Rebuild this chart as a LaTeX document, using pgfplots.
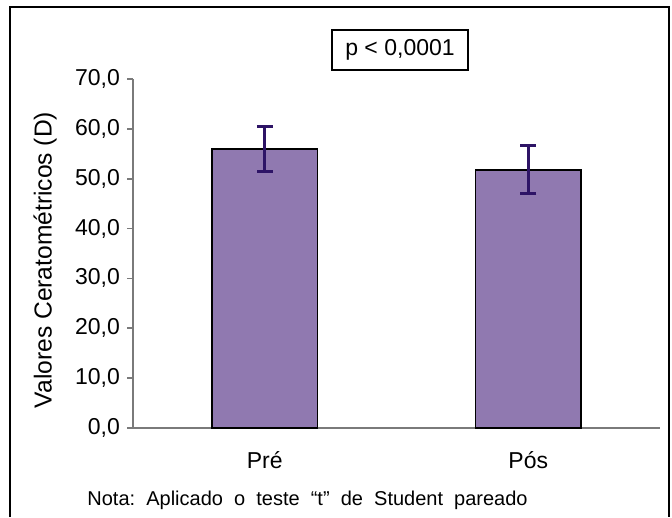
\documentclass[border=0pt]{standalone}
\usepackage{pgfplots}
\pgfplotsset{compat=1.18}
\usepackage{fontspec}
\setmainfont{Liberation Sans}
\definecolor{barfill}{HTML}{9079B0}
\definecolor{errc}{HTML}{2E1466}
\definecolor{axgray}{HTML}{7A7A7A}
\begin{document}
\begin{tikzpicture}
\path (0,0) rectangle (336pt,258.5pt);
\draw[line width=0.8pt] (5pt,0) -- (5pt,255pt) -- (334.5pt,255pt) -- (334.5pt,0);
\begin{axis}[
  at={(66.5pt,44.5pt)}, anchor=south west,
  scale only axis, width=263.5pt, height=174.5pt,
  xmin=-0.5, xmax=1.5, ymin=0, ymax=70,
  axis x line=bottom, axis y line=left,
  axis line style={-, axgray, line width=0.8pt},
  xtick={0,1}, xticklabels={Pré,Pós},
  x tick style={draw=none},
  extra x ticks={-0.5,0.5,1.5}, extra x tick labels={},
  extra x tick style={tick style={draw=axgray, line width=0.8pt}, major tick length=3pt, tick align=outside},
  ytick={0,10,...,70},
  y tick style={draw=axgray, line width=0.8pt},
  tick align=outside, major tick length=3pt,
  yticklabel style={/pgf/number format/.cd, fixed, fixed zerofill, precision=1, use comma, assume math mode=true},
  ticklabel style={font=\fontsize{11.5}{13}\selectfont},
  xticklabel style={anchor=center, yshift=-13pt},
  clip=false,
]
\addplot[ybar, bar width=0.40, fill=barfill, draw=black, line width=0.8pt,
  error bars/.cd, y dir=both, y explicit,
  error bar style={errc, line width=1.6pt},
  error mark options={errc, line width=1.6pt, mark size=4pt, rotate=90}]
  coordinates {(0,56.0) +- (0,4.5) (1,51.8) +- (0,4.8)};
\end{axis}
\node[rotate=90, font=\fontsize{12.3}{14}\selectfont] at (22.5pt,128.5pt) {Valores Ceratométricos (D)};
\node[draw, line width=0.8pt, minimum width=68pt, minimum height=20pt, font=\fontsize{11.5}{13}\selectfont] at (200pt,233.5pt) {p < 0,0001};
\node[anchor=west, inner sep=0pt, font=\fontsize{10}{12}\selectfont] at (43.5pt,8.5pt) {Nota:\ \ Aplicado\ \ o\ \ teste\ \ “t"\ \ de\ \ Student\ \ pareado};
\end{tikzpicture}
\end{document}
